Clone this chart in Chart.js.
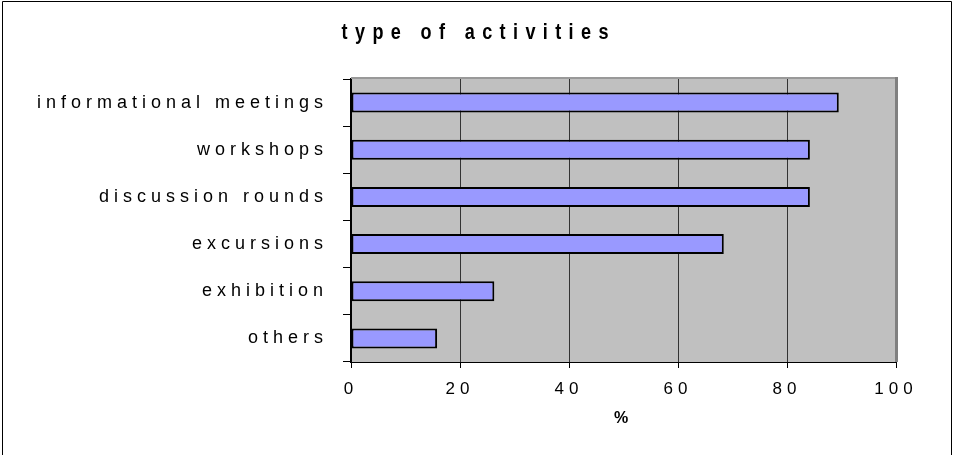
<!DOCTYPE html>
<html>
<head>
<meta charset="utf-8">
<script src="https://cdn.jsdelivr.net/npm/chart.js@4/dist/chart.umd.min.js"></script>
<style>
  html, body { margin: 0; padding: 0; background: #fff; }
</style>
</head>
<body>
<canvas id="activityChart" width="953" height="455"></canvas>
<script>
// data
const chartTitle = 'type of activities';
const categories = ['informational meetings', 'workshops', 'discussion rounds', 'excursions', 'exhibition', 'others'];
const percentages = [89.5, 84.2, 84.2, 68.4, 26.3, 15.8];
const xTickValues = [0, 20, 40, 60, 80, 100];

const FONT = "'Liberation Sans', Arial, sans-serif";
const SPACING = '5px';

// grey plot area, frame lines, the spaced-out title and the outer border
const plotFrame = {
    id: 'plotFrame',
    beforeLayout(chart) {
        chart.ctx.letterSpacing = SPACING;
    },
    beforeDraw(chart) {
        const { ctx, chartArea: a } = chart;
        ctx.letterSpacing = SPACING;
        ctx.save();
        ctx.fillStyle = '#c0c0c0';
        ctx.fillRect(a.left, a.top, a.right - a.left, a.bottom - a.top);
        ctx.restore();
    },
    afterDraw(chart) {
        const { ctx, chartArea: a } = chart;
        ctx.save();
        ctx.strokeStyle = '#999999';
        ctx.lineWidth = 2;
        ctx.beginPath();
        ctx.moveTo(a.left, a.top - 1);
        ctx.lineTo(a.right, a.top - 1);
        ctx.stroke();
        ctx.strokeStyle = '#808080';
        ctx.lineWidth = 3;
        ctx.beginPath();
        ctx.moveTo(a.right + 0.5, a.top - 2);
        ctx.lineTo(a.right + 0.5, a.bottom);
        ctx.stroke();

        // title, narrow and tall like the original
        const sx = 0.82;
        ctx.save();
        ctx.letterSpacing = '9px';
        ctx.fillStyle = '#000';
        ctx.font = "bold 22px " + FONT;
        ctx.textAlign = 'left';
        ctx.textBaseline = 'middle';
        const w = (ctx.measureText(chartTitle).width - 9) * sx;
        ctx.translate(475 - w / 2, 33);
        ctx.scale(sx, 1);
        ctx.fillText(chartTitle, 0, 0);
        ctx.restore();

        // outer border
        ctx.strokeStyle = '#000';
        ctx.lineWidth = 1;
        ctx.beginPath();
        ctx.moveTo(2.5, 460);
        ctx.lineTo(2.5, 1.5);
        ctx.lineTo(951.5, 1.5);
        ctx.lineTo(951.5, 460);
        ctx.stroke();
        ctx.restore();
        ctx.letterSpacing = SPACING;
    }
};

const ctx = document.getElementById('activityChart').getContext('2d');
const activityChart = new Chart(ctx, {
    type: 'bar',
    data: {
        labels: categories,
        datasets: [{
            data: percentages,
            backgroundColor: '#9999ff',
            borderColor: '#000000',
            borderWidth: 2,
            borderSkipped: false,
            barPercentage: 0.424,
            categoryPercentage: 1
        }]
    },
    options: {
        indexAxis: 'y',
        responsive: false,
        animation: false,
        devicePixelRatio: 1,
        layout: {
            padding: { top: 79, right: 57, bottom: 0, left: 0 }
        },
        plugins: {
            legend: { display: false },
            tooltip: { enabled: false },
            title: { display: false }
        },
        scales: {
            x: {
                min: xTickValues[0],
                max: xTickValues[xTickValues.length - 1],
                afterBuildTicks(scale) {
                    scale.ticks = xTickValues.map(v => ({ value: v }));
                },
                ticks: {
                    color: '#000',
                    font: { family: FONT, size: 17 },
                    padding: 11
                },
                grid: {
                    color: '#333333',
                    lineWidth: 1,
                    tickLength: 6,
                    tickColor: '#000'
                },
                border: { color: '#000', width: 1 },
                title: {
                    display: true,
                    text: '%',
                    color: '#000',
                    font: { family: FONT, size: 16, weight: 'bold' },
                    padding: { top: 0, bottom: 27 }
                },
                afterFit(scale) {
                    scale.height = 93;
                }
            },
            y: {
                grid: {
                    drawOnChartArea: false,
                    tickLength: 8,
                    tickColor: '#000',
                    offset: true
                },
                border: { color: '#000', width: 2 },
                ticks: {
                    color: '#000',
                    font: { family: FONT, size: 18 },
                    padding: 15
                },
                afterFit(scale) {
                    scale.width = 351;
                }
            }
        }
    },
    plugins: [plotFrame]
});
</script>
</body>
</html>
